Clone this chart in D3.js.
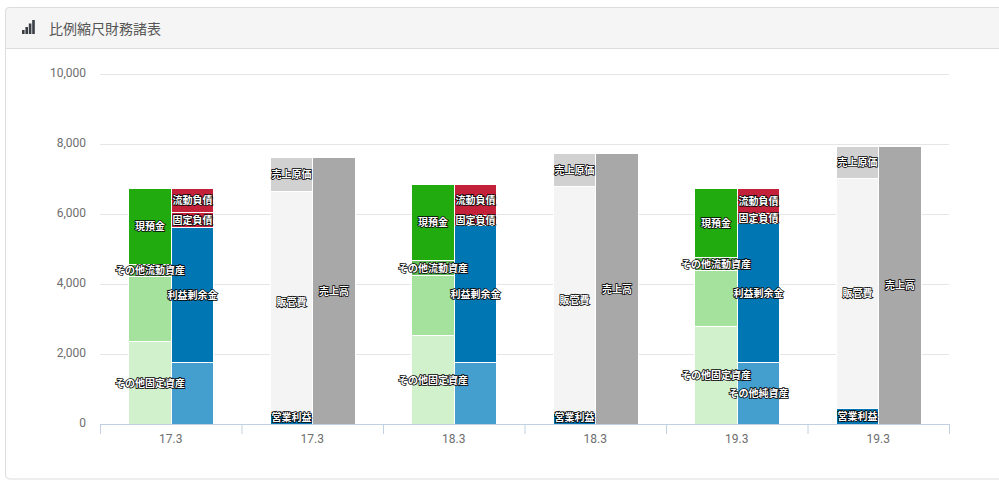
<!DOCTYPE html>
<html>
<head>
<meta charset="utf-8">
<script src="https://cdn.jsdelivr.net/npm/d3@7"></script>
<style>
  html, body { margin: 0; padding: 0; background: #fff; overflow: hidden; }
  svg { display: block; }
  .axis text { font-family: Roboto, sans-serif; font-size: 12px; fill: #6e6e6e; }
  .seg-label {
    font-family: "Noto Sans CJK JP", sans-serif;
    font-size: 10px;
    font-weight: 700;
    fill: #fff;
    stroke: #000;
    stroke-width: 1.5px;
    paint-order: stroke;
    text-anchor: middle;
    dominant-baseline: central;
  }
</style>
</head>
<body>
<svg id="chart" width="999" height="485"></svg>
<script>
const title = "比例縮尺財務諸表"
const categories = ["17.3", "17.3", "18.3", "18.3", "19.3", "19.3"]
const yTicks = [0, 2000, 4000, 6000, 8000, 10000]

// balance sheet columns sit at category 0, 2, 4
const bsIndex = [0, 2, 4]
const plIndex = [1, 3, 5]

// assets, bottom to top
const otherFixedAssets = [2370, 2530, 2806]
const tangibleAssets = [1845, 1740, 1588]
const otherCurrentAssets = [370, 430, 383]
const cash = [2172, 2143, 1952]

// liabilities + net assets, bottom to top
const otherNetAssets = [1785, 1785, 1777]
const retainedEarnings = [3835, 3915, 3973]
const fixedLiabilities = [451, 285, 284]
const currentLiabilities = [686, 858, 695]

// income statement, left column bottom to top
const operatingProfit = [320, 320, 443]
const sga = [6340, 6485, 6592]
const costOfSales = [980, 925, 922]
// income statement, right column
const sales = [7640, 7730, 7957]

// some segments only carry a label in some years
const otherNetLabels = ["", "", "その他純資産"]

var dimensions = {
    width: 999,
    height: 485,
    margin: { top: 74, bottom: 61, right: 50, left: 100 }
}

var svg = d3.select("#chart")

// card + header
svg.append("rect").attr("x", 5.5).attr("y", 7.5).attr("width", 1020).attr("height", 471.5)
    .attr("rx", 4).attr("fill", "#fff").attr("stroke", "#ddd")
svg.append("path").attr("d", "M5.5,48V11.5a4,4 0 0 1 4,-4H1030V48Z").attr("fill", "#f5f5f5")
svg.append("path").attr("d", "M5.5,48.5V11.5a4,4 0 0 1 4,-4H1030M6,48.5H1030").attr("fill", "none").attr("stroke", "#ddd")

// header icon
var iconBars = [4, 7, 10.5, 14]
svg.append("g").selectAll("rect").data(iconBars).enter().append("rect")
    .attr("x", (d, i) => 22 + i * 3.4)
    .attr("y", d => 34 - d)
    .attr("width", 2.6)
    .attr("height", d => d)
    .attr("fill", "#3a3f45")

svg.append("text").attr("x", 49).attr("y", 34)
    .attr("font-family", "'Noto Sans CJK JP', sans-serif")
    .attr("font-size", 14).attr("fill", "#555")
    .text(title)

var plotRight = dimensions.width - dimensions.margin.right
var plotBottom = dimensions.height - dimensions.margin.bottom

var xScale = d3.scaleBand()
    .domain(d3.range(categories.length))
    .range([dimensions.margin.left, plotRight])

var sideScale = d3.scaleBand()
    .domain([0, 1])
    .range([xScale.bandwidth() * 0.2, xScale.bandwidth() * 0.8])

var yScale = d3.scaleLinear()
    .domain([0, 10000])
    .range([plotBottom, dimensions.margin.top])

// gridlines
var gridGen = d3.axisLeft(yScale).tickValues(yTicks.slice(1)).tickSize(-(plotRight - dimensions.margin.left)).tickFormat("")
var grid = svg.append("g").attr("transform", `translate(${dimensions.margin.left},0)`).call(gridGen)
grid.select(".domain").remove()
grid.selectAll("line").attr("stroke", "#e6e6e6")

var yAxisGen = d3.axisLeft(yScale).tickValues(yTicks).tickSize(0).tickPadding(14).tickFormat(d3.format(","))
var yAxis = svg.append("g").attr("class", "axis")
    .attr("transform", `translate(${dimensions.margin.left},0)`).call(yAxisGen)
yAxis.select(".domain").remove()
yAxis.selectAll("text").attr("dy", "0.2em")

// one stacked column per entry
function segments(indexes, side, layers) {
    var rows = indexes.map((cat, i) => {
        var row = { cat: cat }
        layers.forEach((l, j) => row[j] = l.values[i])
        return row
    })
    var stacked = d3.stack().keys(layers.map((l, j) => j))(rows)
    var out = []
    stacked.forEach((layer, j) => {
        layer.forEach((d, i) => {
            var lab = layers[j].labels ? layers[j].labels[i] : layers[j].name
            out.push({ cat: d.data.cat, side: side, y0: d[0], y1: d[1], color: layers[j].color, label: lab })
        })
    })
    return out
}

var marks = [].concat(
    segments(bsIndex, 0, [
        { name: "その他固定資産", values: otherFixedAssets, color: "#d1f0cc" },
        { name: "", values: tangibleAssets, color: "#a5e29d" },
        { name: "その他流動資産", values: otherCurrentAssets, color: "#63bd58" },
        { name: "現預金", values: cash, color: "#22ab0f" }
    ]),
    segments(bsIndex, 1, [
        { labels: otherNetLabels, values: otherNetAssets, color: "#459fce" },
        { name: "利益剰余金", values: retainedEarnings, color: "#0076b2" },
        { name: "固定負債", values: fixedLiabilities, color: "#c3213a" },
        { name: "流動負債", values: currentLiabilities, color: "#c3213a" }
    ]),
    segments(plIndex, 0, [
        { name: "営業利益", values: operatingProfit, color: "#0076b2" },
        { name: "販管費", values: sga, color: "#f4f4f4" },
        { name: "売上原価", values: costOfSales, color: "#d1d1d1" }
    ]),
    segments(plIndex, 1, [
        { name: "売上高", values: sales, color: "#a8a8a8" }
    ])
)

var barX = d => Math.round(xScale(d.cat) + sideScale(d.side)) + 0.5
var barX1 = d => Math.round(xScale(d.cat) + sideScale(d.side) + sideScale.bandwidth()) + 0.5
var barY = v => Math.round(yScale(v)) + 0.5

svg.append("g").selectAll("rect")
    .data(marks)
    .enter()
    .append("rect")
    .attr("x", barX)
    .attr("y", d => barY(d.y1))
    .attr("width", d => barX1(d) - barX(d))
    .attr("height", d => barY(d.y0) - barY(d.y1))
    .attr("fill", d => d.color)
    .attr("stroke", "#fff")
    .attr("stroke-width", 1)

// x axis: ticks on band edges, labels on band centres
var edgeScale = d3.scaleLinear().domain([0, categories.length]).range([dimensions.margin.left, plotRight])
var edgeGen = d3.axisBottom(edgeScale).tickValues(d3.range(categories.length + 1)).tickSize(10).tickSizeOuter(0).tickFormat("")
var edgeAxis = svg.append("g").attr("transform", `translate(0,${plotBottom})`).call(edgeGen)
edgeAxis.selectAll("line, path").attr("stroke", "#c0d0e0")

var xAxisGen = d3.axisBottom(xScale).tickSize(0).tickPadding(10).tickFormat(i => categories[i])
var xAxis = svg.append("g").attr("class", "axis").attr("transform", `translate(0,${plotBottom})`).call(xAxisGen)
xAxis.select(".domain").remove()

// labels on top of everything, kept inside the plot near the axis
svg.append("g").selectAll("text")
    .data(marks.filter(d => d.label))
    .enter()
    .append("text")
    .attr("class", "seg-label")
    .attr("x", d => (barX(d) + barX1(d)) / 2)
    .attr("y", d => Math.min((barY(d.y0) + barY(d.y1)) / 2 - 1, plotBottom - 8))
    .text(d => d.label)
</script>
</body>
</html>
